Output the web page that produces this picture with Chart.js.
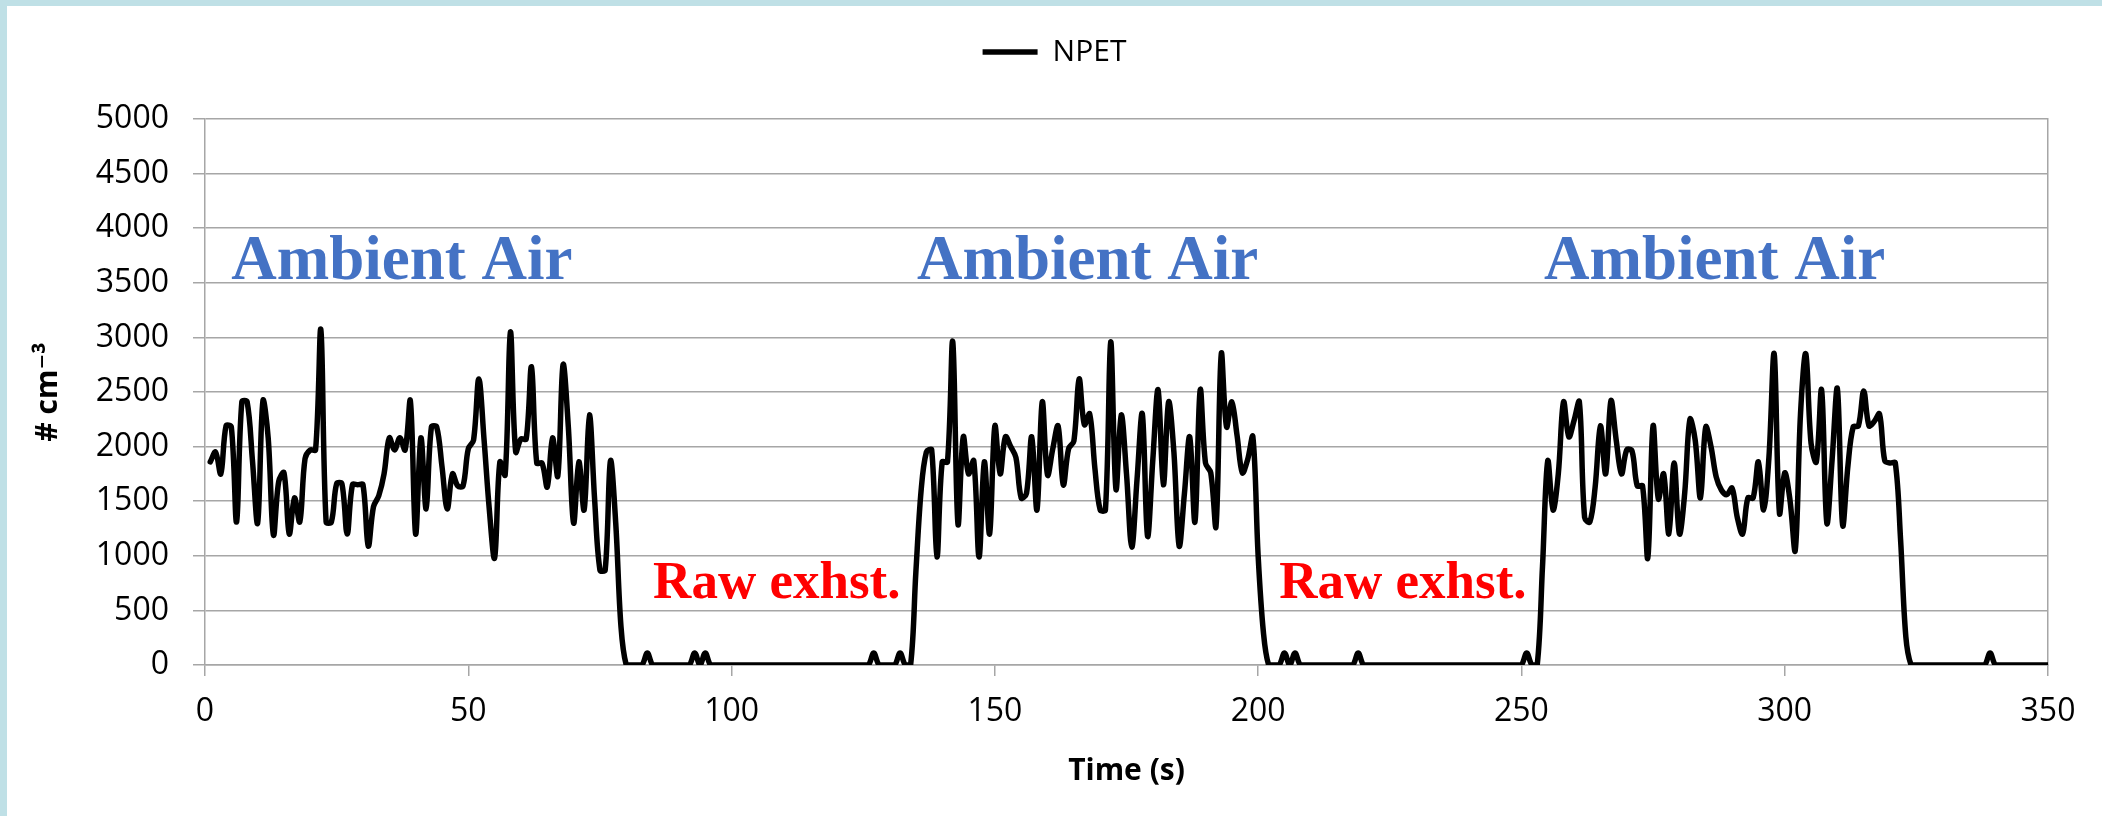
<!DOCTYPE html>
<html>
<head>
<meta charset="utf-8">
<script src="https://cdn.jsdelivr.net/npm/chart.js@4.4.1/dist/chart.umd.min.js"></script>
<style>
  html, body { margin: 0; padding: 0; background: #ffffff; overflow: hidden; }
  canvas { display: block; }
</style>
</head>
<body>
<canvas id="chart" width="2102" height="816"></canvas>
<script>
// ---------------- data ----------------
const seriesName = 'NPET';
const startTime = 1;        // s, first sample
const sampleInterval = 1;   // s between samples

// NPET particle number concentration (# cm-3), one value per second, t = 1 ... 350 s
const npetValues = [
  1860,1950,1750,2190,2180,1310,2410,2410,1880,1300,
  2420,2080,1190,1680,1760,1200,1530,1310,1890,1970,
  1970,3070,1310,1310,1660,1660,1200,1650,1650,1650,
  1090,1450,1550,1750,2080,1970,2080,1970,2420,1200,
  2080,1430,2180,2180,1820,1430,1750,1640,1640,1980,
  2060,2620,2060,1420,980,1860,1740,3050,1950,2070,
  2070,2730,1850,1850,1630,2080,1730,2750,2180,1300,
  1860,1420,2290,1510,870,870,1870,1300,350,0,
  0,0,0,110,0,0,0,0,0,0,
  0,0,110,0,110,0,0,0,0,0,
  0,0,0,0,0,0,0,0,0,0,
  0,0,0,0,0,0,0,0,0,0,
  0,0,0,0,0,0,110,0,0,0,
  0,110,0,0,850,1600,1950,1970,990,1860,
  1860,2960,1290,2090,1750,1870,990,1860,1200,2190,
  1750,2090,2000,1900,1530,1570,2090,1420,2410,1740,
  1980,2190,1650,1980,2050,2620,2200,2300,1800,1420,
  1420,2960,1610,2290,1750,1080,1700,2300,1180,1880,
  2520,1650,2410,1950,1090,1570,2090,1310,2520,1850,
  1760,1270,2850,2180,2410,2100,1760,1880,2090,1000,
  300,0,0,0,110,0,110,0,0,0,
  0,0,0,0,0,0,0,0,110,0,
  0,0,0,0,0,0,0,0,0,0,
  0,0,0,0,0,0,0,0,0,0,
  0,0,0,0,0,0,0,0,0,0,
  110,0,0,900,1870,1420,1750,2410,2090,2240,
  2410,1350,1310,1630,2190,1750,2420,2060,1750,1970,
  1960,1640,1640,980,2190,1520,1750,1200,1850,1200,
  1570,2250,2060,1530,2180,2000,1720,1600,1560,1620,
  1350,1200,1530,1530,1860,1420,1900,2850,1390,1760,
  1510,1050,2300,2850,2030,1860,2520,1300,1880,2530,
  1280,1820,2180,2190,2510,2190,2230,2300,1870,1850,
  1850,1150,260,0,0,0,0,0,0,0,
  0,0,0,0,0,0,0,0,110,0,
  0,0,0,0,0,0,0,0,0,0
];

const xTickValues = [0, 50, 100, 150, 200, 250, 300, 350];
const yTickValues = [0, 500, 1000, 1500, 2000, 2500, 3000, 3500, 4000, 4500, 5000];
const xAxisTitle = 'Time (s)';
const yAxisTitle = '# cm\u207B\u00B3';
const ambientText = 'Ambient Air';
const exhaustText = 'Raw exhst.';

// ---------------- styling / layout ----------------
const gridColor = '#a6a6a6';
const tickFont = { family: "'Open Sans', 'DejaVu Sans', sans-serif", size: 32 };
const titleFont = { family: "'Open Sans', 'DejaVu Sans', sans-serif", size: 30, weight: 'bold' };

const points = npetValues.map((v, i) => ({ x: startTime + i * sampleInterval, y: v }));

const backgroundPlugin = {
  id: 'panelBackground',
  beforeDraw(chart) {
    const ctx = chart.ctx;
    ctx.save();
    ctx.fillStyle = '#bfe0e6';
    ctx.fillRect(0, 0, chart.width, chart.height);
    ctx.fillStyle = '#ffffff';
    ctx.fillRect(7, 6, chart.width - 7, chart.height - 6);
    ctx.restore();
  }
};

const legendHeightPlugin = {
  id: 'legendHeight',
  beforeLayout(chart) {
    const lg = chart.legend;
    if (lg && !lg._fixedHeight) {
      const orig = lg.fit;
      lg.fit = function () { orig.call(this); this.height = 113; };
      lg._fixedHeight = true;
    }
  }
};

const regionLabelPlugin = {
  id: 'regionLabels',
  afterDatasetsDraw(chart, args, opts) {
    const { ctx, scales } = chart;
    ctx.save();
    ctx.textAlign = 'left';
    ctx.textBaseline = 'alphabetic';
    opts.items.forEach(it => {
      ctx.font = it.font;
      ctx.fillStyle = it.color;
      ctx.fillText(it.text, scales.x.getPixelForValue(it.at[0]), scales.y.getPixelForValue(it.at[1]));
    });
    ctx.restore();
  }
};

const ambientFont = "bold 63px 'Liberation Serif', 'Times New Roman', serif";
const exhaustFont = "bold 53px 'Liberation Serif', 'Times New Roman', serif";

new Chart(document.getElementById('chart'), {
  type: 'line',
  data: {
    datasets: [{
      label: seriesName,
      data: points,
      borderColor: '#000000',
      backgroundColor: '#000000',
      borderWidth: 5.5,
      pointRadius: 0,
      pointHoverRadius: 0,
      tension: 0.35,
      fill: false,
      borderJoinStyle: 'round',
      borderCapStyle: 'round',
      xAxisID: 'x',
      yAxisID: 'y'
    }]
  },
  options: {
    responsive: false,
    devicePixelRatio: 1,
    animation: false,
    events: [],
    layout: { padding: { left: 7, top: 6, right: 0, bottom: 0 } },
    scales: {
      x: {
        type: 'linear',
        position: 'bottom',
        min: xTickValues[0],
        max: xTickValues[xTickValues.length - 1],
        afterBuildTicks: s => { s.ticks = xTickValues.map(v => ({ value: v })); },
        afterFit: s => { s.height = 151; },
        grid: { display: true, drawOnChartArea: false, drawTicks: true, tickLength: 11, color: gridColor, lineWidth: 1.5 },
        border: { display: true, color: gridColor, width: 1.5 },
        ticks: { font: tickFont, color: '#000000', padding: 17, maxRotation: 0, autoSkip: false, callback: v => String(v) },
        title: { display: true, text: xAxisTitle, font: titleFont, color: '#000000', padding: { top: 0, bottom: 27 } }
      },
      y: {
        type: 'linear',
        position: 'left',
        min: yTickValues[0],
        max: yTickValues[yTickValues.length - 1],
        afterBuildTicks: s => { s.ticks = yTickValues.map(v => ({ value: v })); },
        afterFit: s => { s.width = 198; },
        grid: { display: true, drawOnChartArea: true, drawTicks: true, tickLength: 12, color: gridColor, lineWidth: 1.5 },
        border: { display: true, color: gridColor, width: 1.5 },
        ticks: { font: tickFont, color: '#000000', padding: 24, autoSkip: false, callback: v => String(v) },
        title: { display: true, text: yAxisTitle, font: titleFont, color: '#000000', padding: { top: 23, bottom: 0 } }
      },
      yRight: {
        type: 'linear',
        position: 'right',
        min: 0,
        max: 1,
        afterFit: s => { s.width = 54; },
        grid: { display: false },
        border: { display: true, color: gridColor, width: 1.5 },
        ticks: { display: false }
      }
    },
    plugins: {
      legend: {
        display: true,
        position: 'top',
        align: 'center',
        labels: {
          usePointStyle: true,
          pointStyle: 'line',
          pointStyleWidth: 55,
          font: { family: "'Open Sans', 'DejaVu Sans', sans-serif", size: 30 },
          color: '#000000',
          padding: 31
        }
      },
      tooltip: { enabled: false },
      regionLabels: {
        items: [
          { text: ambientText, at: [5.0, 3535], font: ambientFont, color: '#4472C4' },
          { text: ambientText, at: [135.2, 3535], font: ambientFont, color: '#4472C4' },
          { text: ambientText, at: [254.3, 3535], font: ambientFont, color: '#4472C4' },
          { text: exhaustText, at: [85.1, 614], font: exhaustFont, color: '#FF0000' },
          { text: exhaustText, at: [204.0, 614], font: exhaustFont, color: '#FF0000' }
        ]
      }
    }
  },
  plugins: [backgroundPlugin, legendHeightPlugin, regionLabelPlugin]
});
</script>
</body>
</html>
